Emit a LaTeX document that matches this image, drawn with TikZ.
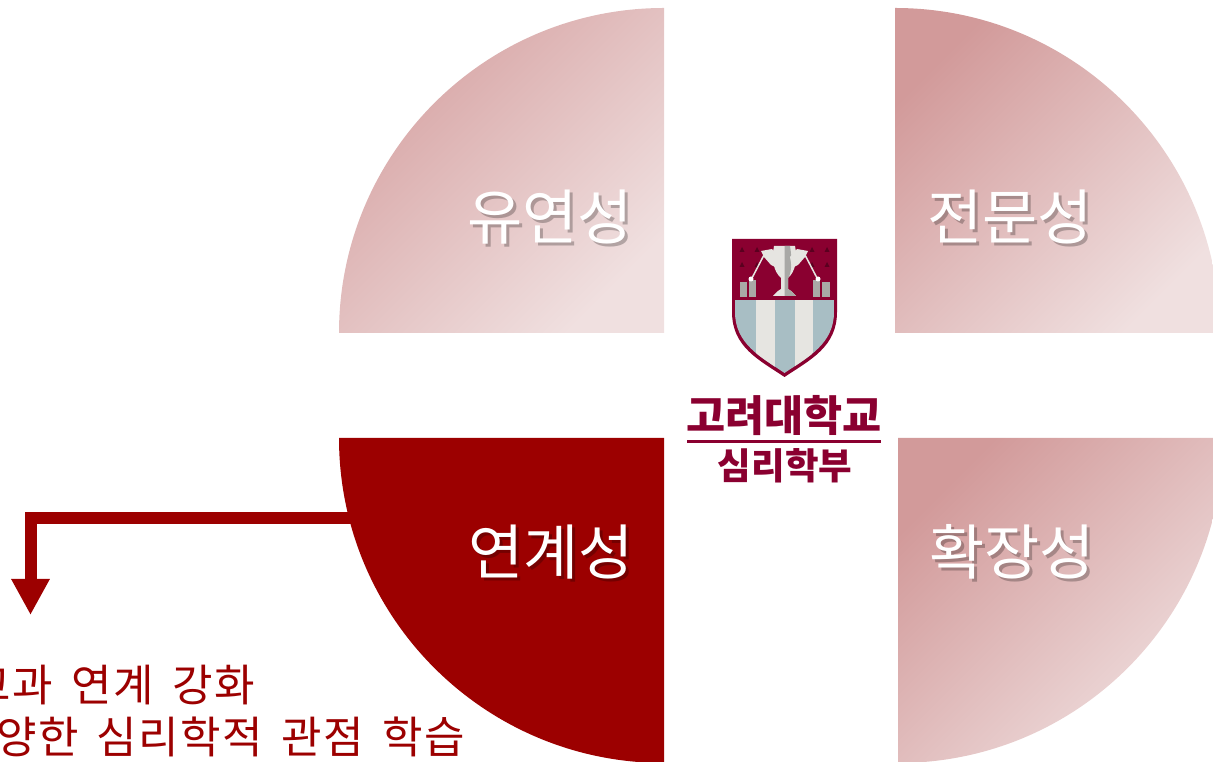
\documentclass[tikz,border=0pt]{standalone}
\usepackage{fontspec}
\usepackage{xcolor}
\setmainfont{Noto Sans CJK KR}
\newfontfamily\notefont[LetterSpace=3.5,WordSpace=1.6]{Noto Sans CJK KR}
\usetikzlibrary{arrows.meta, positioning}
\definecolor{DeepRed}{HTML}{9C0000}
\definecolor{SoftRed}{HTML}{D29A9A}
\definecolor{MildRed}{HTML}{D6A2A2}
\definecolor{PaleRed}{HTML}{F0E0E0}
\definecolor{Crimson}{HTML}{8A0030}
\definecolor{ShieldBlue}{HTML}{A8BEC4}
\definecolor{ShieldWhite}{HTML}{E6E5E1}
\definecolor{ShieldGray}{HTML}{A9A9A6}
\tikzset{
    softquad/.style={top color=SoftRed, bottom color=PaleRed, shading angle=45, draw=none},
    mildquad/.style={top color=MildRed, bottom color=PaleRed, shading angle=45, draw=none},
    quadlabel/.style={text=white, font=\fontsize{60}{70}\selectfont, inner sep=0pt},
    quadshadow/.style={text=black, opacity=0.25, font=\fontsize{60}{70}\selectfont, inner sep=0pt},
    notelabel/.style={text=DeepRed, font=\notefont\fontsize{44}{50}\selectfont, anchor=base east, inner sep=0pt},
    logotext/.style={text=Crimson, inner sep=0pt}
}
\begin{document}
\begin{tikzpicture}[x=1pt, y=1pt]
    \useasboundingbox (0,0) rectangle (1213,762);
    \clip (0,0) rectangle (1213,762);

    % Quarter discs
    \shade[mildquad] (664,429) -- (339,429) arc[start angle=180, end angle=90, radius=325] -- cycle;
    \shade[softquad] (895,429) -- (895,754) arc[start angle=90, end angle=0, radius=325] -- cycle;
    \shade[softquad] (898,324) -- (898,-1) arc[start angle=270, end angle=360, radius=325] -- cycle;
    \fill[DeepRed] (664,324) -- (339,324) arc[start angle=180, end angle=270, radius=325] -- cycle;

    % Labels with shadow
    \foreach \name/\px/\py/\txt in {flex/550/545/유연성, expert/1010/545/전문성,
                                    link/551/210/연계성, wide/1012/210/확장성} {
        \node[quadshadow] at (\px+3,\py-3) {\txt};
        \node[quadlabel] (\name) at (\px,\py) {\txt};
    }

    % Arrow to the note
    \coordinate (linkout) at (360,244);
    \coordinate (linktip) at (30.5,147);
    \draw[-{Triangle[length=36pt,width=36pt]}, line width=12pt, DeepRed] (linkout) -| (linktip);

    % Note
    \node[notelabel] (note1) at (255,60) {교과 연계 강화};
    \node[notelabel] (note2) at (465,8) {다양한 심리학적 관점 학습};

    % Shield
    \fill[Crimson] (732,523) -- (837,523) -- (837,450)
        .. controls (837,415) and (810,402) .. (784.5,385)
        .. controls (759,402) and (732,415) .. (732,450) -- cycle;
    \begin{scope}
        \clip (735,462) -- (834,462) -- (834,450)
            .. controls (834,418) and (808,405) .. (784.5,389)
            .. controls (761,405) and (735,418) .. (735,450) -- cycle;
        \fill[ShieldBlue] (735,380) rectangle (834,462);
        \fill[ShieldWhite] (756,380) rectangle (774.5,462);
        \fill[ShieldWhite] (795,380) rectangle (813,462);
    \end{scope}

    % Small marks on the red panel
    \foreach \mx in {742,757,812,827}
        \foreach \my in {510,495}
            \fill[Crimson!65!black] (\mx-2.5,\my) -- (\mx+2.5,\my) -- (\mx,\my+5) -- cycle;

    % Towers
    \foreach \tx/\tw/\ty in {740/7/480, 749/7/482, 813/7/482, 822/8/480}
        \fill[ShieldGray] (\tx,465) rectangle (\tx+\tw,\ty);

    % Chalice
    \fill[ShieldWhite] (773,466) -- (796,466) -- (791,471) -- (788,473) -- (788,484)
        .. controls (795,490) and (798,502) .. (795,516) -- (774,516)
        .. controls (771,502) and (774,490) .. (781,484) -- (781,473) -- (778,471) -- cycle;
    \fill[ShieldGray] (784.5,466) -- (796,466) -- (791,471) -- (788,473) -- (788,484)
        .. controls (792,488) and (792,505) .. (790,516) -- (784.5,516) -- cycle;
    \fill[ShieldWhite] (761,511) -- (772,513) -- (779,505) -- (777,494) -- (771,497) -- (764,505) -- cycle;
    \fill[ShieldWhite] (808,511) -- (797,513) -- (790,505) -- (792,494) -- (798,497) -- (805,505) -- cycle;
    \draw[ShieldWhite, line width=1.5pt] (764,507) -- (752,484);
    \draw[ShieldWhite, line width=1.5pt] (805,507) -- (817,484);
    \fill[white] (751,483) circle (2.5);
    \fill[white] (818,483) circle (2.5);

    % Logo text
    \node[logotext, font=\bfseries\fontsize{42.5}{48}\selectfont] (korea) at (784,346) {고려대학교};
    \coordinate (ruleleft) at (687,320.5);
    \coordinate (ruleright) at (881,320.5);
    \draw[Crimson, line width=2.5pt] (ruleleft) -- (ruleright);
    \node[logotext, font=\bfseries\fontsize{36.5}{42}\selectfont] (dept) at (785,296) {심리학부};
\end{tikzpicture}
\end{document}
